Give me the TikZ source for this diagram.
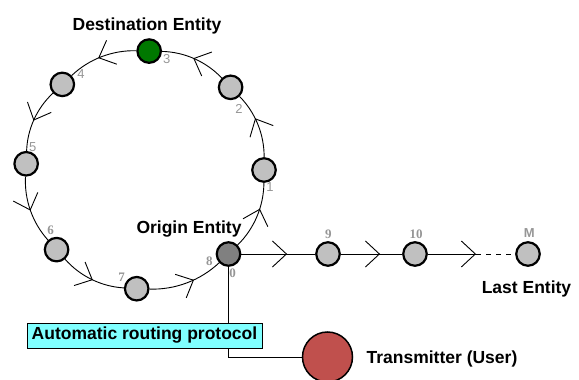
\documentclass[tikz,border=0pt]{standalone}
\usepackage{fontspec}
\setmainfont{Liberation Sans}
\newfontfamily\numserif{Liberation Serif}
\usetikzlibrary{decorations.markings,arrows.meta}
\definecolor{entgray}{RGB}{192,192,192}
\definecolor{origgray}{RGB}{128,128,128}
\definecolor{destgreen}{RGB}{0,120,0}
\definecolor{txred}{RGB}{192,80,77}
\definecolor{numgray}{RGB}{150,150,150}
\definecolor{boxcyan}{RGB}{128,255,255}
\begin{document}
\begin{tikzpicture}[x=1pt,y=1pt,
  ent/.style={circle,draw=black,line width=2.2pt,fill=entgray,minimum size=23.5pt,inner sep=0pt},
  lbl/.style={font=\bfseries\fontsize{17.5}{20}\selectfont,text=black,inner sep=0pt},
  numsans/.style={font=\fontsize{13}{15}\selectfont,text=numgray,inner sep=0pt},
  numser/.style={font=\numserif\bfseries\fontsize{13}{15}\selectfont,text=numgray,inner sep=0pt},
  conn/.style={line width=0.9pt,draw=black},
  flow/.style={conn,postaction={decorate},decoration={markings,
    mark=at position #1 with {\arrow[line width=0.9pt]{Straight Barb[length=14pt,width=26pt]}}}},
  ring/.style={flow=#1,bend right=22.5,looseness=0.885},
]
\useasboundingbox (0,0) rectangle (579,380);
\begin{scope}[shift={(145,210)}]
  \node[ent] (n1) at (0:119) {};
  \node[ent] (n2) at (44:119) {};
  \node[ent,fill=destgreen] (n3) at (88:119) {};
  \node[ent] (n4) at (134:119) {};
  \node[ent] (n5) at (177:119) {};
  \node[ent] (n6) at (222:119) {};
  \node[ent] (n7) at (266:119) {};
\end{scope}
\node[ent,fill=origgray] (n0) at (228.5,126) {};
\node[ent] (n9) at (328,126) {};
\node[ent] (n10) at (415,126) {};
\node[ent] (nM) at (528,126) {};
\coordinate (d) at (476,126);
\node[circle,draw=black,line width=1.5pt,fill=txred,minimum size=50pt,inner sep=0pt] (tx) at (327.5,23) {};

% ring
\draw[ring=0.62] (n0) to (n1);
\draw[ring=0.6] (n1) to (n2);
\draw[ring=0.52] (n2) to (n3);
\draw[ring=0.55] (n3) to (n4);
\draw[ring=0.52] (n4) to (n5);
\draw[ring=0.5] (n5) to (n6);
\draw[ring=0.52] (n6) to (n7);
\draw[ring=0.6] (n7) to (n0);

% line
\draw[flow=0.62] (n0) -- (n9);
\draw[flow=0.64] (n9) -- (n10);
\draw[flow=1] (n10) -- (d);
\draw[conn,dash pattern=on 5pt off 5pt] (d) -- (nM);

% to transmitter
\draw[conn] (n0) |- (tx);
\node[lbl,draw=black,line width=0.8pt,fill=boxcyan,minimum width=235pt,minimum height=25pt] (proto) at (144.5,44.5) {Automatic routing protocol};

% labels
\node[lbl,anchor=base] (ldest) at (147,349) {Destination Entity};
\node[lbl,anchor=base] (lorig) at (189,146.5) {Origin Entity};
\node[lbl,anchor=base] (llast) at (526.5,86.7) {Last Entity};
\node[lbl,anchor=base] (ltx) at (442,16) {Transmitter (User)};

% numbers
\node[numsans] (k1) at (270,193.3) {1};
\node[numsans] (k2) at (239,271) {2};
\node[numsans] (k3) at (166.7,320.7) {3};
\node[numsans] (k4) at (81,306) {4};
\node[numsans] (k5) at (32.7,233.3) {5};
\node[numser] (k6) at (50.7,150) {6};
\node[numser] (k7) at (121.7,102.3) {7};
\node[numser] (k8) at (209.3,119) {8};
\node[numser] (k0) at (232.7,106.7) {0};
\node[numser] (k9) at (328.3,145.7) {9};
\node[numser] (k10) at (416,145.7) {10};
\node[numsans,font=\bfseries\fontsize{13}{15}\selectfont] (kM) at (529.3,146.7) {M};
\end{tikzpicture}
\end{document}
